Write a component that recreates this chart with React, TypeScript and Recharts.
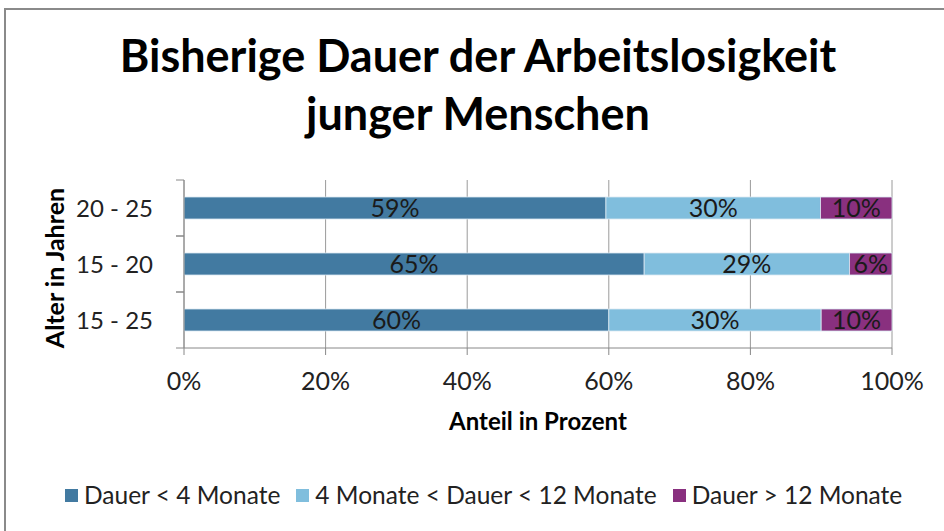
import { Bar, BarChart, CartesianGrid, LabelList, XAxis, YAxis } from "recharts";

const categories = ["20 - 25", "15 - 20", "15 - 25"];
const shortValues = [59, 65, 60];
const midValues = [30, 29, 30];
const longValues = [10, 6, 10];
const xTicks = [0, 0.2, 0.4, 0.6, 0.8, 1];

const seriesNames = ["Dauer < 4 Monate", "4 Monate < Dauer < 12 Monate", "Dauer > 12 Monate"];
const seriesColors = ["#427aa1", "#80bedd", "#89307f"];

const data = categories.map((c, i) => ({
  age: c,
  short: shortValues[i],
  mid: midValues[i],
  long: longValues[i]
}));

const FONT = "Lato, 'Open Sans', sans-serif";

function AgeTick(props: any) {
  const { x, y, payload } = props;
  const off = payload.offset ?? 28;
  return (
    <g>
      <line x1={x} x2={x + 8} y1={y - off} y2={y - off} stroke="#888" />
      <line x1={x} x2={x + 8} y1={y + off} y2={y + off} stroke="#888" />
      <text x={x - 23} y={y} dy="0.36em" textAnchor="end" fontSize={24} fill="#222" fontFamily={FONT}>
        {payload.value}
      </text>
    </g>
  );
}

function LegendRow() {
  return (
    <div
      style={{
        position: "absolute",
        left: 65,
        top: 480,
        display: "flex",
        fontFamily: FONT,
        fontSize: 24.5,
        lineHeight: "30px",
        color: "#222",
        whiteSpace: "nowrap"
      }}
    >
      {seriesNames.map((n, i) => (
        <div key={n} style={{ display: "flex", alignItems: "center", marginRight: 16 }}>
          <span style={{ width: 13, height: 13, background: seriesColors[i], marginRight: 6, display: "inline-block" }} />
          <span>{n}</span>
        </div>
      ))}
    </div>
  );
}

export default function App() {
  return (
    <div style={{ position: "absolute", left: 0, top: 0, width: 944, height: 531, background: "#fff", overflow: "hidden" }}>
      <div
        style={{
          position: "absolute",
          left: 4,
          top: 8,
          width: 1000,
          height: 600,
          borderTop: "2px solid #8a8a8a",
          borderLeft: "2px solid #8a8a8a"
        }}
      />
      <div style={{ position: "absolute", left: 0, top: 0 }}>
        <BarChart
          width={944}
          height={531}
          data={data}
          layout="vertical"
          stackOffset="expand"
          margin={{ top: 180, right: 52, bottom: 0, left: 0 }}
        >
          <CartesianGrid horizontal={false} stroke="#9a9a9a" />
          <XAxis
            type="number"
            domain={[0, 1]}
            ticks={xTicks}
            tickFormatter={(v: number) => `${Math.round(v * 100)}%`}
            tick={{ fontSize: 25, fill: "#222", fontFamily: FONT }}
            tickSize={7}
            tickMargin={17}
            stroke="#888"
            height={183}
            interval={0}
          />
          <YAxis
            type="category"
            dataKey="age"
            width={184}
            tick={<AgeTick />}
            tickLine={false}
            stroke="#888"
          />
          {(["short", "mid", "long"] as const).map((k, i) => (
            <Bar
              key={k}
              dataKey={k}
              stackId="a"
              name={seriesNames[i]}
              fill={seriesColors[i]}
              stroke="#dbe9f3"
              strokeWidth={0.8}
              barSize={22}
              isAnimationActive={false}
            >
              <LabelList
                dataKey={k}
                position="center"
                formatter={(v: any) => `${v}%`}
                style={{ fontSize: 25, fill: "#1a1a1a", fontFamily: FONT }}
              />
            </Bar>
          ))}
        </BarChart>
      </div>
      <svg width={944} height={531} style={{ position: "absolute", left: 0, top: 0, pointerEvents: "none" }}>
        <g fontFamily={FONT} fontWeight={700} fill="#000">
          <text x={478} y={72} textAnchor="middle" fontSize={45}>
            Bisherige Dauer der Arbeitslosigkeit
          </text>
          <text x={478} y={130} textAnchor="middle" fontSize={45}>
            junger Menschen
          </text>
          <text x={538} y={430} textAnchor="middle" fontSize={24}>
            Anteil in Prozent
          </text>
          <text x={64} y={268} textAnchor="middle" fontSize={25} transform="rotate(-90 64 268)">
            Alter in Jahren
          </text>
        </g>
      </svg>
      <LegendRow />
    </div>
  );
}
